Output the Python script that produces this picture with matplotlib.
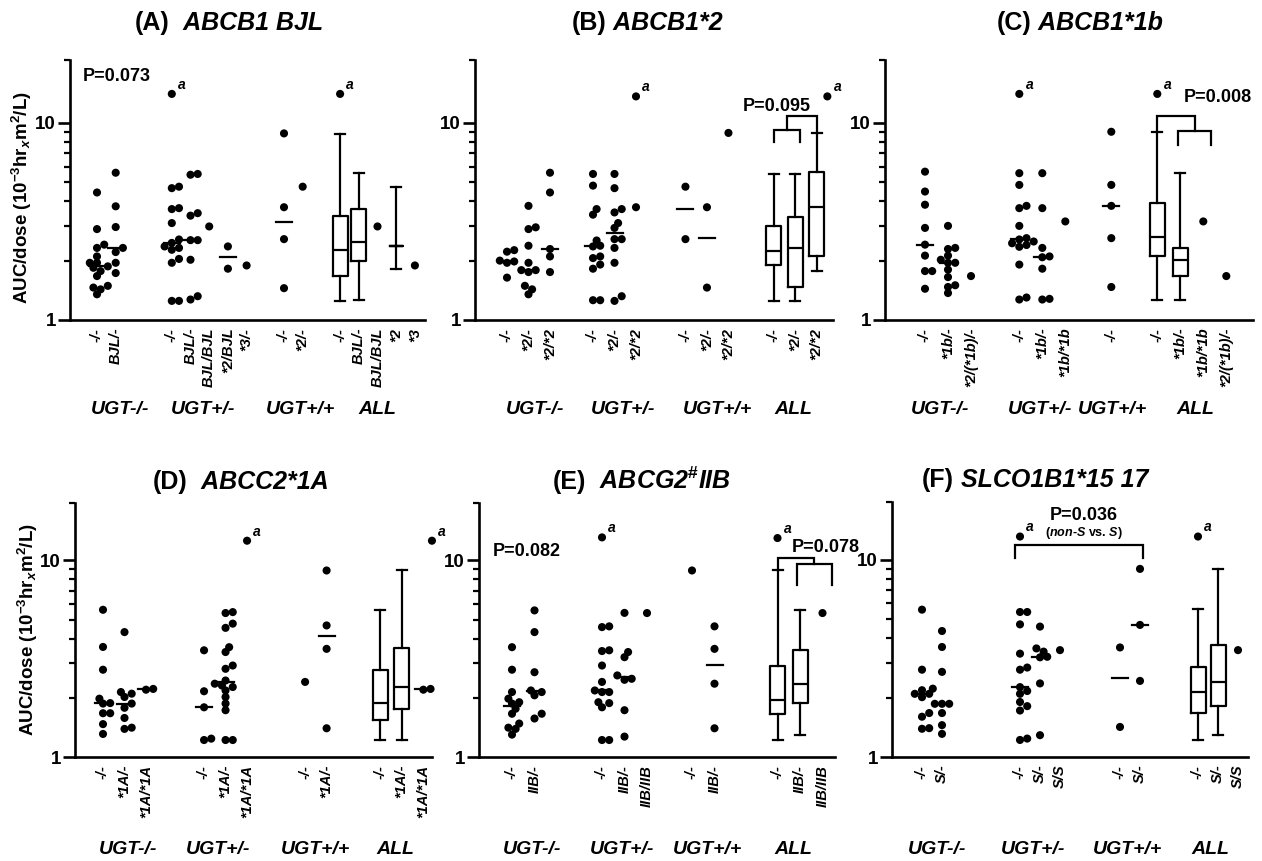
import numpy as np
import matplotlib
matplotlib.use("Agg")
import matplotlib.pyplot as plt
from matplotlib import font_manager, transforms
from matplotlib.ticker import FixedLocator, NullFormatter

# ------------------------------------------------------------------ data
GROUPS = ["UGT-/-", "UGT+/-", "UGT+/+", "ALL"]

A_labels = [["-/-", "BJL/-"], ["-/-", "BJL/-", "BJL/BJL", "*2/BJL", "*3/-"],
            ["-/-", "*2/-"], ["-/-", "BJL/-", "BJL/BJL", "*2", "*3"]]
A_points = [
    [[4.43, 2.89, 2.41, 2.32, 2.10, 1.95, 1.95, 1.87, 1.84, 1.77, 1.67, 1.49, 1.46, 1.43, 1.35],
     [5.58, 3.77, 2.96, 2.32, 2.21, 1.95, 1.73]],
    [[14.0, 4.74, 4.66, 3.69, 3.65, 3.10, 2.56, 2.46, 2.36, 2.32, 2.27, 2.04, 1.95, 1.25, 1.25],
     [5.50, 5.45, 3.48, 3.38, 2.54, 2.54, 2.02, 1.32, 1.27], [2.98], [2.36, 1.82], [1.89]],
    [[8.83, 3.73, 2.57, 1.45], [4.74]],
]
A_all_kind = ["box", "box", "pts", "range", "pts"]
A_all_vals = [[1.25, 1.68, 2.26, 3.38, 8.80], [1.27, 1.99, 2.48, 3.65, 5.58], [2.98],
              [1.82, 2.36, 4.71], [1.89]]
A_all_fliers = [[14.0], [], [], [], []]

B_labels = [["-/-", "*2/-", "*2/*2"], ["-/-", "*2/-", "*2/*2"],
            ["-/-", "*2/-", "*2/*2"], ["-/-", "*2/-", "*2/*2"]]
B_points = [
    [[2.26, 2.22, 2.00, 1.98, 1.95, 1.64],
     [3.79, 2.95, 2.89, 2.38, 1.95, 1.79, 1.79, 1.75, 1.49, 1.43, 1.35],
     [5.58, 4.43, 2.29, 2.10, 1.75]],
    [[5.50, 4.80, 3.65, 3.42, 2.53, 2.38, 2.36, 2.10, 2.06, 1.91, 1.82, 1.26, 1.26],
     [5.50, 4.66, 3.65, 3.51, 3.10, 2.93, 2.57, 2.57, 2.32, 1.95, 1.32, 1.25],
     [13.6, 3.73]],
    [[4.74, 2.57], [3.73, 1.46], [8.88]],
]
B_all_kind = ["box", "box", "box"]
B_all_vals = [[1.25, 1.89, 2.23, 3.00, 5.50], [1.25, 1.47, 2.32, 3.32, 5.50],
              [1.77, 2.10, 3.73, 5.65, 8.88]]
B_all_fliers = [[], [], [13.6]]

C_labels = [["-/-", "*1b/-", "*2/(*1b)/-"], ["-/-", "*1b/-", "*1b/*1b"], ["-/-"],
            ["-/-", "*1b/-", "*1b/*1b", "*2/(*1b)/-"]]
C_points = [
    [[5.65, 4.48, 3.84, 2.93, 2.41, 2.12, 1.77, 1.77, 1.44],
     [3.00, 2.32, 2.29, 2.12, 2.02, 1.95, 1.95, 1.80, 1.65, 1.50, 1.47, 1.37], [1.67]],
    [[14.0, 5.55, 4.84, 3.79, 3.69, 3.00, 2.60, 2.56, 2.50, 2.45, 2.40, 2.35, 1.91, 1.30, 1.27],
     [5.55, 3.69, 2.32, 2.10, 2.08, 1.82, 1.28, 1.27], [3.16]],
    [[9.00, 4.84, 3.79, 2.60, 1.47]],
]
C_all_kind = ["box", "box", "pts", "pts"]
C_all_vals = [[1.27, 2.12, 2.62, 3.91, 9.00], [1.27, 1.67, 2.02, 2.32, 5.55], [3.16], [1.67]]
C_all_fliers = [[14.0], [], [], []]

D_labels = [["-/-", "*1A/-", "*1A/*1A"], ["-/-", "*1A/-", "*1A/*1A"], ["-/-", "*1A/-"],
            ["-/-", "*1A/-", "*1A/*1A"]]
D_points = [
    [[5.61, 3.63, 2.78, 1.98, 1.88, 1.87, 1.67, 1.67, 1.47, 1.31],
     [4.32, 2.14, 2.10, 2.02, 1.87, 1.78, 1.58, 1.41, 1.39], [2.22, 2.20]],
    [[3.49, 2.16, 1.79, 1.24, 1.22],
     [5.46, 5.40, 4.77, 4.54, 3.62, 3.42, 2.92, 2.81, 2.45, 2.36, 2.31, 2.27, 2.18, 2.02,
      1.87, 1.73, 1.22, 1.22], [12.6]],
    [[2.41], [8.89, 4.67, 3.55, 1.40]],
]
D_all_kind = ["box", "box", "pts"]
D_all_vals = [[1.22, 1.55, 1.88, 2.78, 5.61], [1.22, 1.76, 2.27, 3.60, 8.89], [2.22, 2.20]]
D_all_fliers = [[], [], [12.6]]

E_labels = [["-/-", "IIB/-"], ["-/-", "IIB/-", "IIB/IIB"], ["-/-", "IIB/-"],
            ["-/-", "IIB/-", "IIB/IIB"]]
E_points = [
    [[3.62, 2.78, 2.14, 1.98, 1.90, 1.87, 1.76, 1.66, 1.48, 1.41, 1.39, 1.30],
     [5.57, 4.32, 2.70, 2.18, 2.14, 2.06, 1.66, 1.57]],
    [[13.1, 4.62, 4.58, 3.49, 3.46, 2.92, 2.41, 2.18, 2.14, 2.14, 1.90, 1.88, 1.79, 1.22, 1.22],
     [5.41, 3.42, 3.22, 2.60, 2.50, 2.47, 1.73, 1.27], [5.40]],
    [[8.89], [4.62, 3.55, 2.36, 1.40]],
]
E_all_kind = ["box", "box", "pts"]
E_all_vals = [[1.22, 1.66, 1.96, 2.89, 8.89], [1.29, 1.88, 2.36, 3.52, 5.62], [5.40]]
E_all_fliers = [[13.0], [], []]

F_labels = [["-/-", "S/-"], ["-/-", "S/-", "S/S"], ["-/-", "S/-"], ["-/-", "S/-", "S/S"]]
F_points = [
    [[5.58, 2.77, 2.22, 2.18, 2.09, 2.09, 2.01, 1.67, 1.60, 1.40, 1.39],
     [4.35, 3.61, 2.70, 1.86, 1.86, 1.86, 1.67, 1.45, 1.31]],
    [[13.1, 5.43, 5.43, 4.70, 3.34, 2.84, 2.77, 2.26, 2.16, 2.09, 1.90, 1.81, 1.72, 1.24, 1.22],
     [4.58, 3.55, 3.42, 3.22, 3.20, 2.36, 1.29], [3.48]],
    [[3.59, 1.42], [8.98, 4.67, 2.43]],
]
F_all_kind = ["box", "box", "pts"]
F_all_vals = [[1.22, 1.67, 2.14, 2.85, 5.60], [1.29, 1.81, 2.41, 3.70, 8.98], [3.48]]
F_all_fliers = [[13.1], [], []]

# ------------------------------------------------------------------ fonts
names = {f.name for f in font_manager.fontManager.ttflist}
FONT = "Liberation Sans" if "Liberation Sans" in names else "DejaVu Sans"
plt.rcParams["font.family"] = [FONT, "DejaVu Sans"]
plt.rcParams["mathtext.fontset"] = "custom"
plt.rcParams["mathtext.rm"] = FONT + ":bold"
plt.rcParams["mathtext.bf"] = FONT + ":bold"
plt.rcParams["mathtext.it"] = FONT + ":italic:bold"

W, H = 1262, 861
fig = plt.figure(figsize=(W / 100, H / 100), dpi=100)
fig.patch.set_facecolor("white")

# ------------------------------------------------------------------ layout
LAYOUT = {
    "A": dict(box=(70, 425, 60, 320), slot0=78.3, unit=18.7, starts=[1, 5, 11, 14],
              glab=[2.23, 6.67, 11.86, 15.97], ytop=20.8, title=(135, 23, "(A)", "  ABCB1 BJL"),
              fdx=0.0),
    "B": dict(box=(475, 833, 60, 320), slot0=485.5, unit=21.5, starts=[1, 5, 9.3, 13.4],
              glab=[2.30, 6.40, 10.81, 14.30], ytop=20.8, title=(572, 23, "(B)", " ABCB1*2"),
              fdx=0.5),
    "C": dict(box=(885, 1253, 60, 320), slot0=902, unit=23, starts=[1, 5.1, 9.1, 11.1],
              glab=[1.65, 6.0, 9.17, 12.74], ytop=20.8, title=(997, 23, "(C)", " ABCB1*1b"),
              fdx=0.0),
    "D": dict(box=(75, 432, 503, 757), slot0=81.5, unit=21.5, starts=[1, 5.7, 10.4, 13.9],
              glab=[2.16, 6.35, 10.86, 14.58], ytop=19.6, title=(153, 482, "(D)", "  ABCC2*1A"),
              fdx=0.4),
    "E": dict(box=(479, 835, 503, 757), slot0=489.5, unit=22.5, starts=[1, 5, 9, 12.8],
              glab=[1.89, 5.89, 9.71, 13.49], ytop=19.6,
              title=(553, 482, "(E)", r"  ABCG2$^{\#}$IIB"), fdx=0.0),
    "F": dict(box=(892, 1248, 502, 757), slot0=902, unit=20, starts=[1, 5.9, 10.9, 14.8],
              glab=[1.75, 6.55, 11.25, 15.4], ytop=19.6,
              title=(922, 480, "(F)", " SLCO1B1*15 17"), fdx=0.0),
}

LW = 1.6
DOT = 8.0      # dot diameter in px
DOT_S = 34     # scatter size (pt^2)


def swarm(vals, dec_px):
    ys = np.log10(np.asarray(vals, float)) * dec_px
    order = np.argsort(ys)
    placed, offs = [], np.zeros(len(ys))
    for i in order:
        y = ys[i]
        done = False
        for k in range(0, 30):
            for sgn in ([0] if k == 0 else [1, -1]):
                x = sgn * k * DOT * 0.45
                if all((x - px) ** 2 + (y - py) ** 2 >= (DOT * 0.75) ** 2 for px, py in placed):
                    placed.append((x, y))
                    offs[i] = x
                    done = True
                    break
            if done:
                break
    return offs


def draw_panel(key, labels, points, all_kind, all_vals, all_fliers):
    L = LAYOUT[key]
    l, r, t, b = L["box"]
    ax = fig.add_axes([l / W, 1 - b / H, (r - l) / W, (b - t) / H])
    unit, slot0 = L["unit"], L["slot0"]
    ax.set_xlim((l - slot0) / unit, (r - slot0) / unit)
    ax.set_yscale("log")
    ax.set_ylim(1, L["ytop"])
    dec_px = (b - t) / np.log10(L["ytop"])
    for s in ["top", "right"]:
        ax.spines[s].set_visible(False)
    for s in ["left", "bottom"]:
        ax.spines[s].set_linewidth(1.9)
    ax.set_yticks([1, 10], ["1", "10"], fontsize=13.5, fontweight="bold")
    ax.yaxis.set_minor_locator(FixedLocator([2, 3, 4, 5, 6, 7, 8, 9, L["ytop"] * 0.998]))
    ax.yaxis.set_minor_formatter(NullFormatter())
    ax.tick_params(axis="y", which="major", length=9, width=1.9, pad=1)
    ax.tick_params(axis="y", which="minor", length=4.5, width=1.6)
    ax.tick_params(axis="x", which="both", bottom=False, labelbottom=False)

    pos = {}
    for g, labs in enumerate(labels):
        for c, lab in enumerate(labs):
            pos[(g, c)] = L["starts"][g] + c
    blend = transforms.blended_transform_factory(ax.transData, ax.transAxes)
    for (g, c), x in pos.items():
        ax.annotate(labels[g][c], xy=(x, 0), xycoords=blend, xytext=(0, -5.5),
                    textcoords="offset points", rotation=90, ha="center", va="top",
                    fontsize=10.5, fontweight="bold", style="italic", annotation_clip=False)
    fb = transforms.blended_transform_factory(ax.transData, fig.transFigure)
    gy = 409 if t < 200 else 849
    for g, name in enumerate(GROUPS):
        ax.text(L["glab"][g], 1 - gy / H, name, transform=fb, ha="center", va="center",
                fontsize=14, fontweight="bold", style="italic", clip_on=False)

    half = 8.0 / unit

    def dots(x, vals):
        offs = swarm(vals, dec_px) / unit
        ax.scatter(x + offs, vals, s=DOT_S, color="black", edgecolors="none", zorder=3,
                   clip_on=False)
        has_outlier = False
        for xo, v in zip(offs, vals):
            if v > 11:
                has_outlier = True
                ax.annotate("a", xy=(x + xo, v), xytext=(4.5, 1.5), textcoords="offset points",
                            fontsize=10, fontweight="bold", style="italic", ha="left",
                            va="bottom", annotation_clip=False)
        if len(vals) >= 3 or (len(vals) == 2 and not has_outlier):
            ax.plot([x - half, x + half], [np.median(vals)] * 2, color="black", lw=LW, zorder=2)

    for g in range(3):
        for c, vals in enumerate(points[g]):
            dots(pos[(g, c)], vals)

    bw, cw = 15.0 / unit, 10.0 / unit
    props = dict(color="black", linewidth=LW)
    for c, (kind, vals) in enumerate(zip(all_kind, all_vals)):
        x = pos[(3, c)]
        if kind == "box":
            st = dict(whislo=vals[0], q1=vals[1], med=vals[2], q3=vals[3], whishi=vals[4], fliers=[])
        elif kind == "range":
            st = dict(whislo=vals[0], q1=vals[1], med=vals[1], q3=vals[1], whishi=vals[2], fliers=[])
        else:
            dots(x, vals)
            st = None
        if st is not None:
            ax.bxp([st], positions=[x], widths=bw if kind == "box" else 13.0 / unit,
                   capwidths=cw, showfliers=False, boxprops=props, whiskerprops=props,
                   capprops=props, medianprops=props, manage_ticks=False)
        for fv in all_fliers[c]:
            fx = x + L["fdx"]
            ax.scatter([fx], [fv], s=DOT_S, color="black", edgecolors="none", zorder=3,
                       clip_on=False)
            ax.annotate("a", xy=(fx, fv), xytext=(4.5, 1.5), textcoords="offset points",
                        fontsize=10, fontweight="bold", style="italic", ha="left", va="bottom",
                        annotation_clip=False)

    tx, ty, tag, gene = L["title"]
    t1 = fig.text(tx / W, 1 - ty / H, tag, fontsize=18, fontweight="bold", ha="left",
                  va="center")
    ax.annotate(gene, xy=(1, 0), xycoords=t1, ha="left", va="bottom", fontsize=18,
                fontweight="bold", style="italic", annotation_clip=False)
    return ax, pos


def bracket(ax, xs, ys):
    ax.plot(xs, ys, color="black", lw=LW, clip_on=False, solid_joinstyle="miter")


ptxt = dict(fontsize=13, fontweight="bold")

axA, pA = draw_panel("A", A_labels, A_points, A_all_kind, A_all_vals, A_all_fliers)
axA.text(0.25, 17.2, "P=0.073", ha="left", va="center", **ptxt)

axB, pB = draw_panel("B", B_labels, B_points, B_all_kind, B_all_vals, B_all_fliers)
p0, p1, p2 = pB[(3, 0)], pB[(3, 1)], pB[(3, 2)]
bracket(axB, [p0, p0, p1 + 0.25, p1 + 0.25], [8.0, 9.2, 9.2, 8.0])
m = (p0 + p1 + 0.25) / 2
bracket(axB, [m, m, p2, p2], [9.2, 10.8, 10.8, 8.9])
axB.text(p0 + 0.15, 12.1, "P=0.095", ha="center", va="center", **ptxt)

axC, pC = draw_panel("C", C_labels, C_points, C_all_kind, C_all_vals, C_all_fliers)
p0, p1, p2 = pC[(3, 0)], pC[(3, 1)], pC[(3, 2)]
bracket(axC, [p1 - 0.1, p1 - 0.1, p2 + 0.35, p2 + 0.35], [7.7, 9.1, 9.1, 7.7])
m = (p1 - 0.1 + p2 + 0.35) / 2
bracket(axC, [p0, p0, m, m], [9.0, 10.8, 10.8, 9.1])
axC.text(p2 + 0.65, 13.5, "P=0.008", ha="center", va="center", **ptxt)

axD, pD = draw_panel("D", D_labels, D_points, D_all_kind, D_all_vals, D_all_fliers)

axE, pE = draw_panel("E", E_labels, E_points, E_all_kind, E_all_vals, E_all_fliers)
axE.text(0.16, 11.1, "P=0.082", ha="left", va="center", **ptxt)
p0, p1, p2 = pE[(3, 0)], pE[(3, 1)], pE[(3, 2)]
bracket(axE, [p1 - 0.15, p1 - 0.15, p2 + 0.4, p2 + 0.4], [7.46, 9.62, 9.62, 7.46])
m = (p1 - 0.15 + p2 + 0.4) / 2
bracket(axE, [p0, p0, m, m], [8.9, 10.3, 10.3, 9.62])
axE.text(p1 - 0.35, 11.6, "P=0.078", ha="left", va="center", **ptxt)

axF, pF = draw_panel("F", F_labels, F_points, F_all_kind, F_all_vals, F_all_fliers)
a, bb = pF[(1, 0)], pF[(2, 1)]
bracket(axF, [a - 0.25, a - 0.25, bb + 0.15, bb + 0.15], [10.2, 11.9, 11.9, 10.2])
axF.text((a + bb) / 2 + 0.2, 16.7, "P=0.036", ha="center", va="center", **ptxt)
axF.text((a + bb) / 2 + 0.2, 13.7, r"($\mathit{non}$-$\mathit{S}$ vs. $\mathit{S}$)",
         ha="center", va="center", fontsize=9, fontweight="bold")

ylab = r"AUC/dose (10$^{-3}$hr$_{x}$m$^{2}$/L)"
fig.text(22 / W, 1 - 198 / H, ylab, rotation=90, ha="center", va="center", fontsize=13.5,
         fontweight="bold")
fig.text(28 / W, 1 - 630 / H, ylab, rotation=90, ha="center", va="center", fontsize=13.5,
         fontweight="bold")

fig.savefig("out.png", dpi=100, facecolor="white")
